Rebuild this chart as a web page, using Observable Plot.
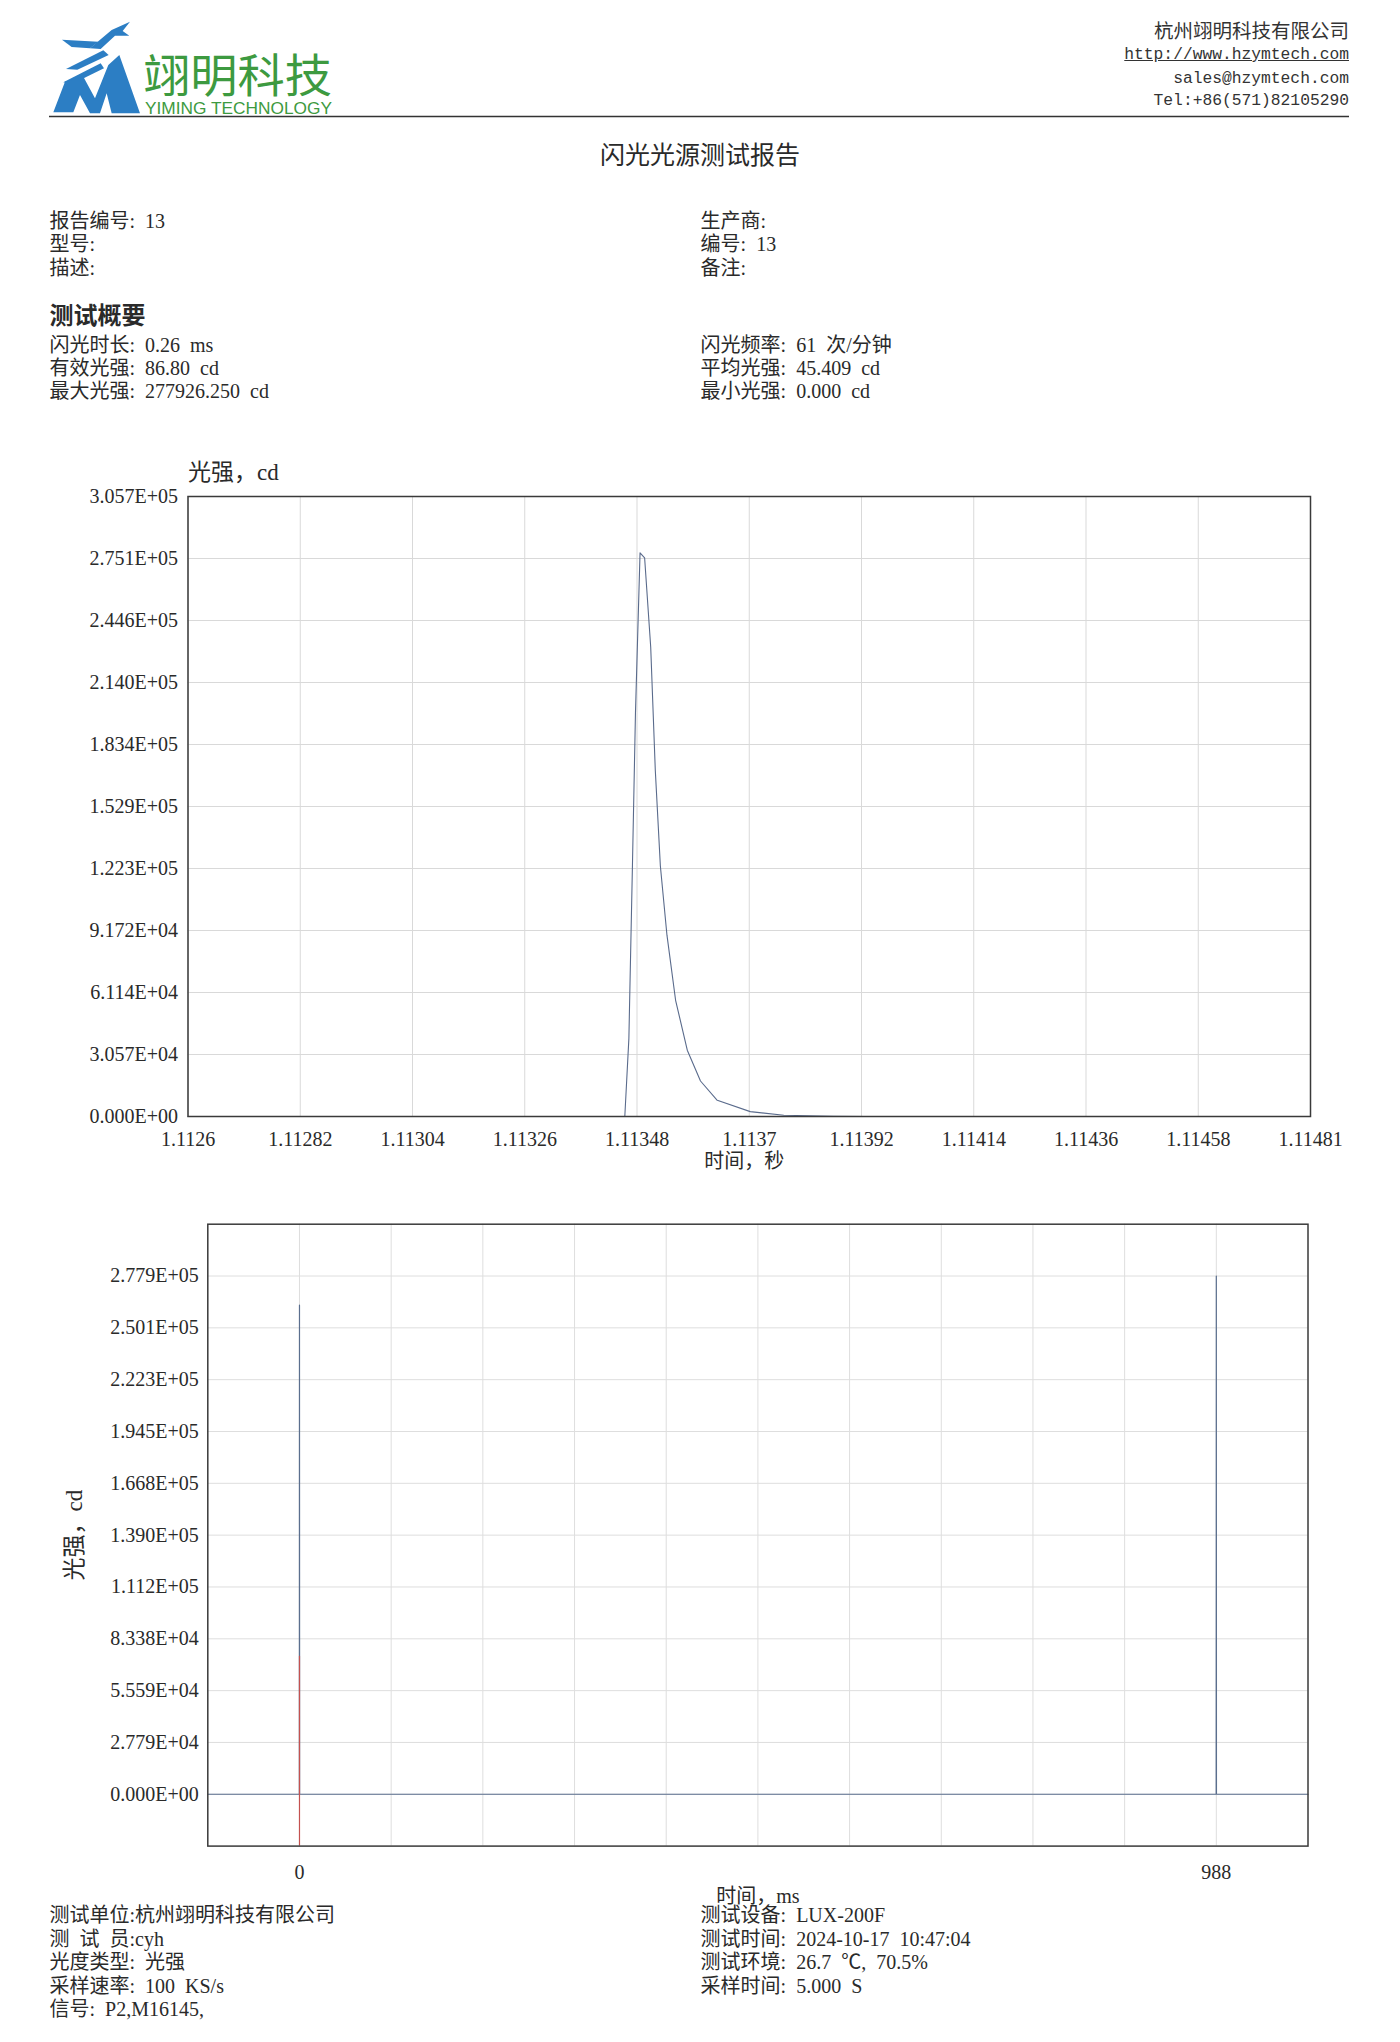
<!DOCTYPE html>
<html><head><meta charset="utf-8">
<script src="https://cdn.jsdelivr.net/npm/d3@7"></script>
<script src="https://cdn.jsdelivr.net/npm/@observablehq/plot@0.6"></script>
<style>
html, body { margin:0; padding:0; background:#fff; }
body { width:1400px; height:2042px; position:relative; overflow:hidden; font-family:"Liberation Serif","Noto Sans CJK SC",serif; color:#2a2a2a; }
.t { position:absolute; white-space:pre; font-size:20px; line-height:24px; word-spacing:5px; }
.r { position:absolute; right:51px; white-space:pre; font-size:19.5px; line-height:24px; text-align:right; color:#333; }
.m { font-family:"Liberation Mono",monospace; font-size:16.3px; }
.chart { position:absolute; left:0; }
</style>
</head><body>
<svg style="position:absolute;left:0;top:0" width="1400" height="125">
  <g transform="translate(40,15) scale(0.3333)" fill="#2c7ec4">
    <polygon points="66,74 175,80 150,100 95,96"/>
    <polygon points="150,100 215,45 270,20 248,48 268,62 225,62 182,102"/>
    <polygon points="78,162 190,106 206,120 112,164"/>
    <polygon points="70,202 182,145 192,160 96,207"/>
    <polygon points="40,292 75,200 130,185 165,250 205,150 238,120 300,295 215,295 200,235 180,295 150,295 120,240 100,292"/>
  </g>
  <text fill="#3d9a40"><tspan x="143" y="92" font-family="Noto Sans CJK SC" font-size="46" textLength="189" lengthAdjust="spacingAndGlyphs">翊明科技</tspan><tspan x="145" y="114" font-family="Liberation Sans Narrow, Liberation Sans, sans-serif" font-size="16.5" textLength="187" lengthAdjust="spacingAndGlyphs">YIMING TECHNOLOGY</tspan></text>
  <line x1="49" y1="116.5" x2="1349" y2="116.5" stroke="#333" stroke-width="1.5"/>
</svg>
<div class="r" style="top:19.5px">杭州翊明科技有限公司</div>
<div class="r m" style="top:43px;text-decoration:underline">http://www.hzymtech.com</div>
<div class="r m" style="top:67px">sales@hzymtech.com</div>
<div class="r m" style="top:89px">Tel:+86(571)82105290</div>

<div class="t" style="left:0;width:1400px;text-align:center;top:140.5px;font-size:25px;line-height:30px">闪光光源测试报告</div>

<div class="t" style="left:49.5px;top:208.8px">报告编号: 13</div>
<div class="t" style="left:49.5px;top:232.3px">型号:</div>
<div class="t" style="left:49.5px;top:255.8px">描述:</div>
<div class="t" style="left:700.6px;top:208.8px">生产商:</div>
<div class="t" style="left:700.6px;top:232.3px">编号: 13</div>
<div class="t" style="left:700.6px;top:255.8px">备注:</div>

<div class="t" style="left:49.5px;top:301.7px;font-size:24px;line-height:28px;font-weight:bold">测试概要</div>
<div class="t" style="left:49.5px;top:332.7px">闪光时长: 0.26 ms</div>
<div class="t" style="left:49.5px;top:355.7px">有效光强: 86.80 cd</div>
<div class="t" style="left:49.5px;top:379.4px">最大光强: 277926.250 cd</div>
<div class="t" style="left:700.6px;top:332.7px">闪光频率: 61 次/分钟</div>
<div class="t" style="left:700.6px;top:355.7px">平均光强: 45.409 cd</div>
<div class="t" style="left:700.6px;top:379.4px">最小光强: 0.000 cd</div>

<div id="c1" class="chart" style="top:440px"></div>
<div id="c2" class="chart" style="top:1190px"></div>

<div class="t" style="left:49.5px;top:1903.4px">测试单位:杭州翊明科技有限公司</div>
<div class="t" style="left:49.5px;top:1926.9px">测 试 员:cyh</div>
<div class="t" style="left:49.5px;top:1950.4px">光度类型: 光强</div>
<div class="t" style="left:49.5px;top:1973.9px">采样速率: 100 KS/s</div>
<div class="t" style="left:49.5px;top:1997.4px">信号: P2,M16145,</div>
<div class="t" style="left:700.6px;top:1903.4px">测试设备: LUX-200F</div>
<div class="t" style="left:700.6px;top:1926.9px">测试时间: 2024-10-17 10:47:04</div>
<div class="t" style="left:700.6px;top:1950.4px">测试环境: 26.7 ℃, 70.5%</div>
<div class="t" style="left:700.6px;top:1973.9px">采样时间: 5.000 S</div>

<script>
// ---- Chart 1: single flash waveform (time in s, intensity in cd)
const flashTime  = [1.1126, 1.11346, 1.113468, 1.113475, 1.113481, 1.11349, 1.113499, 1.113511, 1.11352, 1.11353, 1.113543, 1.11356, 1.113583, 1.113609, 1.113642, 1.113707, 1.113773, 1.113871, 1.113937, 1.11481];
const flashValue = [0, 0, 38400, 123500, 199200, 277926, 275500, 231400, 170900, 123500, 89400, 57300, 32700, 17500, 8000, 2400, 600, 150, 0, 0];
const x1Domain = [1.1126, 1.11481];
const y1Domain = [0, 305719];
const x1TickValues = [1.1126, 1.112821, 1.113042, 1.113263, 1.113484, 1.113705, 1.113926, 1.114147, 1.114368, 1.114589, 1.11481];
const x1TickLabels = ["1.1126", "1.11282", "1.11304", "1.11326", "1.11348", "1.1137", "1.11392", "1.11414", "1.11436", "1.11458", "1.11481"];
const y1TickValues = [0, 30572, 61144, 91716, 122288, 152859, 183431, 214003, 244575, 275147, 305719];
const y1TickLabels = ["0.000E+00", "3.057E+04", "6.114E+04", "9.172E+04", "1.223E+05", "1.529E+05", "1.834E+05", "2.140E+05", "2.446E+05", "2.751E+05", "3.057E+05"];
const y1Title = "光强，cd";
const x1Title = "时间，秒";

// ---- Chart 2: whole sampling window (time in ms)
const seqTime  = [-98.8, -0.15, 0, 0.15, 987.85, 988, 988.15, 1086.8];
const seqValue = [0, 0, 262300, 0, 0, 277926, 0, 0];
const cursorTime = [0];
const cursorLow = -27793, cursorHigh = 74000;
const x2Domain = [-98.8, 1086.8];
const y2Domain = [-27793, 305719];
const x2GridValues = [0, 98.8, 197.6, 296.4, 395.2, 494, 592.8, 691.6, 790.4, 889.2, 988];
const x2TickValues = [0, 988];
const x2TickLabels = ["0", "988"];
const y2TickValues = [0, 27793, 55585, 83378, 111171, 138963, 166756, 194548, 222341, 250134, 277926];
const y2TickLabels = ["0.000E+00", "2.779E+04", "5.559E+04", "8.338E+04", "1.112E+05", "1.390E+05", "1.668E+05", "1.945E+05", "2.223E+05", "2.501E+05", "2.779E+05"];
const y2Title = "光强，cd";
const x2Title = "时间，ms";

const fmt = (vals, labs) => { const m = new Map(vals.map((v, i) => [v, labs[i]])); return d => (m.has(d) ? m.get(d) : ""); };
const font = '"Liberation Serif","Noto Sans CJK SC",serif';
const style = {fontFamily: font, fontSize: "20px", color: "#2a2a2a", background: "transparent", overflow: "visible"};

const flashData = flashTime.map((t, i) => ({t, v: flashValue[i]}));
const seqData = seqTime.map((t, i) => ({t, v: seqValue[i]}));

const chart1 = Plot.plot({
  width: 1400, height: 740,
  marginLeft: 187.5, marginRight: 90, marginTop: 56, marginBottom: 64,
  style,
  x: {domain: x1Domain, ticks: x1TickValues, tickFormat: fmt(x1TickValues, x1TickLabels), tickSize: 0, tickPadding: 15, label: null},
  y: {domain: y1Domain, ticks: y1TickValues, tickFormat: fmt(y1TickValues, y1TickLabels), tickSize: 0, tickPadding: 10, label: null},
  marks: [
    Plot.ruleX(x1TickValues, {stroke: "#d9d9d9"}),
    Plot.ruleY(y1TickValues, {stroke: "#d9d9d9"}),
    Plot.line(flashData, {x: "t", y: "v", stroke: "#5a6b8c", strokeWidth: 1.1}),
    Plot.frame({stroke: "#3a3a3a", strokeWidth: 1.5}),
    Plot.text([y1Title], {text: d => d, frameAnchor: "top-left", textAnchor: "start", lineAnchor: "middle", dy: -24, fontSize: 23}),
    Plot.text([x1Title], {text: d => d, frameAnchor: "bottom", textAnchor: "middle", lineAnchor: "middle", dx: -5, dy: 45, fontSize: 20})
  ]
});
document.getElementById("c1").appendChild(chart1);

const chart2 = Plot.plot({
  width: 1400, height: 720,
  marginLeft: 207.3, marginRight: 92.5, marginTop: 33.7, marginBottom: 64.4,
  style,
  x: {domain: x2Domain, ticks: x2TickValues, tickFormat: fmt(x2TickValues, x2TickLabels), tickSize: 0, tickPadding: 19, label: null},
  y: {domain: y2Domain, ticks: y2TickValues, tickFormat: fmt(y2TickValues, y2TickLabels), tickSize: 0, tickPadding: 9, label: null},
  marks: [
    Plot.ruleX(x2GridValues, {stroke: "#dedede"}),
    Plot.ruleY(y2TickValues, {stroke: "#dedede"}),
    Plot.line(seqData, {x: "t", y: "v", stroke: "#5b6f8e", strokeWidth: 1.2}),
    Plot.ruleX(cursorTime, {x: d => d, y1: cursorLow, y2: cursorHigh, stroke: "#c4514f", strokeWidth: 1.2}),
    Plot.frame({stroke: "#3a3a3a", strokeWidth: 1.5}),
    Plot.text([y2Title], {text: d => d, frameAnchor: "left", textAnchor: "middle", lineAnchor: "middle", dx: -133, rotate: -90, fontSize: 23}),
    Plot.text([x2Title], {text: d => d, frameAnchor: "bottom", textAnchor: "middle", lineAnchor: "middle", dy: 50, fontSize: 20})
  ]
});
document.getElementById("c2").appendChild(chart2);
</script>
</body></html>
